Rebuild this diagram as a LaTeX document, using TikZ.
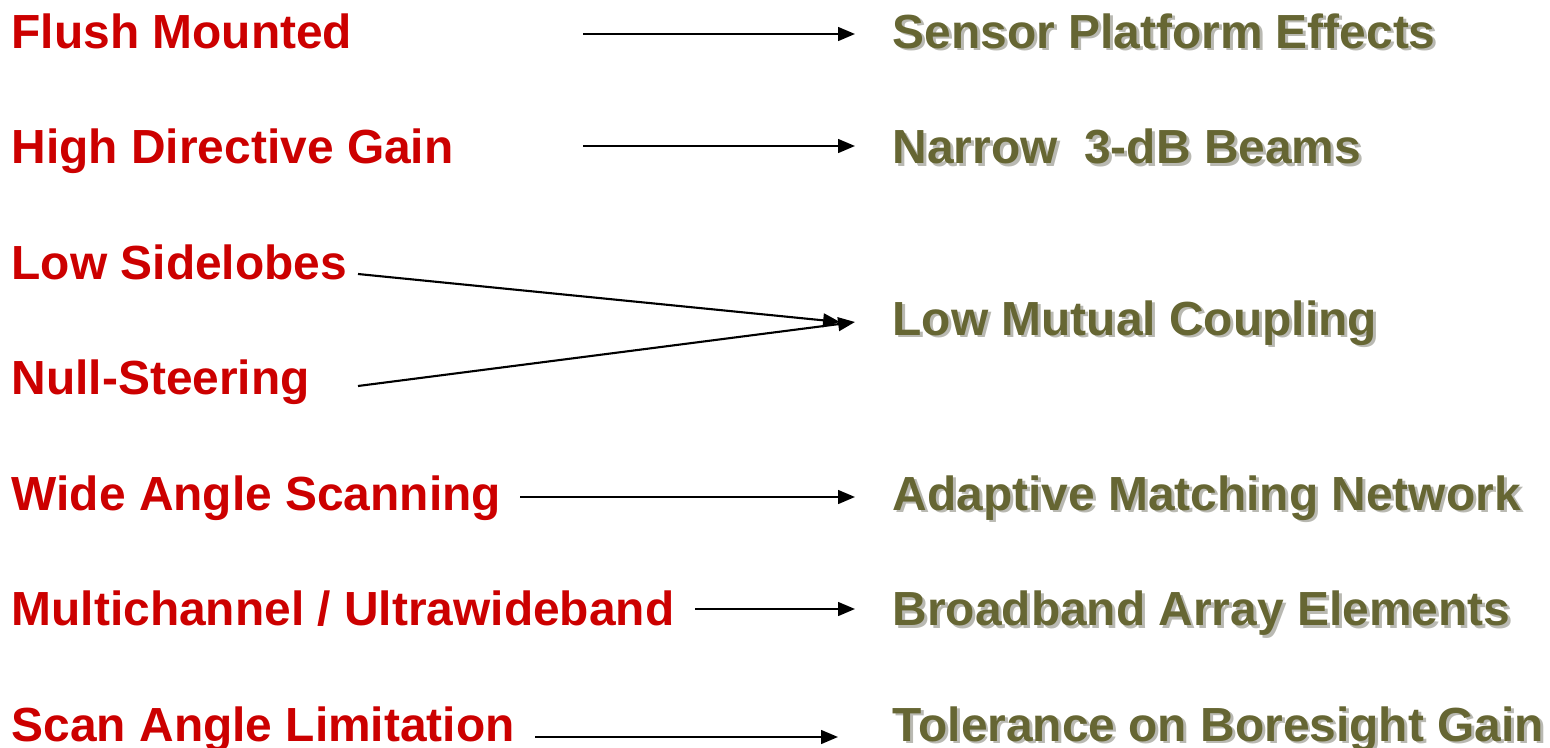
\documentclass[tikz,border=0pt]{standalone}
\usepackage{fontspec}
\setmainfont{Liberation Sans}
\usetikzlibrary{arrows.meta}
\definecolor{reqRed}{RGB}{204,0,0}
\definecolor{effOlive}{RGB}{102,102,51}
\definecolor{effShadow}{RGB}{185,185,178}
\newcommand{\shadowed}[1]{\makebox[0pt][l]{\hspace{0.85pt}\raisebox{-0.85pt}{\color{effShadow}#1}}#1}

\begin{document}
\begin{tikzpicture}[x=0.01cm,y=-0.01cm,>={Triangle[length=4.8pt,width=3.9pt]}]
	\tikzstyle{req}=[anchor=base west,inner sep=0pt,text=reqRed,font=\fontsize{13.62}{16}\selectfont\bfseries]
	
	\tikzstyle{eff}=[anchor=base west,inner sep=0pt,text=effOlive,font=\fontsize{13.62}{16}\selectfont\bfseries]
	
	\tikzstyle{link}=[->,line width=0.6pt]
	
	\useasboundingbox (0,0) rectangle (1550,748);
	
	\node[req](flush) at (11,48){Flush Mounted};
	\node[req](gain) at (11,163.5){High Directive Gain};
	\node[req](sidelobes) at (11,279){Low Sidelobes};
	\node[req](nullSteer) at (11,394){Null-Steering};
	\node[req](wideScan) at (11,510){Wide Angle Scanning};
	\node[req](multi) at (11,625.5){Multichannel / Ultrawideband};
	\node[req](scanLimit) at (11,741){Scan Angle Limitation};
	
	\node[eff](platform) at (892,48){\shadowed{Sensor Platform Effects}};
	\node[eff](beams) at (892,163.5){\shadowed{Narrow\ \ 3-dB Beams}};
	\node[eff](coupling) at (892,335){\shadowed{Low Mutual Coupling}};
	\node[eff](matching) at (892,510){\shadowed{Adaptive Matching Network}};
	\node[eff](broadband) at (892,625.5){\shadowed{Broadband Array Elements}};
	\node[eff](tolerance) at (892,741){\shadowed{Tolerance on Boresight Gain}};
	
	\coordinate(flushOut) at (583,34);
	\coordinate(platformIn) at (855,34);
	\coordinate(gainOut) at (583,146);
	\coordinate(beamsIn) at (855,146);
	\coordinate(sidelobesOut) at (358,274);
	\coordinate(nullSteerOut) at (358,386);
	\coordinate(couplingInA) at (840,322);
	\coordinate(couplingInB) at (855,322);
	\coordinate(wideScanOut) at (520,497);
	\coordinate(matchingIn) at (855,497);
	\coordinate(multiOut) at (695,609);
	\coordinate(broadbandIn) at (855,609);
	\coordinate(scanLimitOut) at (535,737);
	\coordinate(toleranceIn) at (838,737);
	
	\draw[link] (flushOut) -- (platformIn);
	\draw[link] (gainOut) -- (beamsIn);
	\draw[link] (sidelobesOut) -- (couplingInA);
	\draw[link] (nullSteerOut) -- (couplingInB);
	\draw[link] (wideScanOut) -- (matchingIn);
	\draw[link] (multiOut) -- (broadbandIn);
	\draw[link] (scanLimitOut) -- (toleranceIn);
	
\end{tikzpicture}
\end{document}
